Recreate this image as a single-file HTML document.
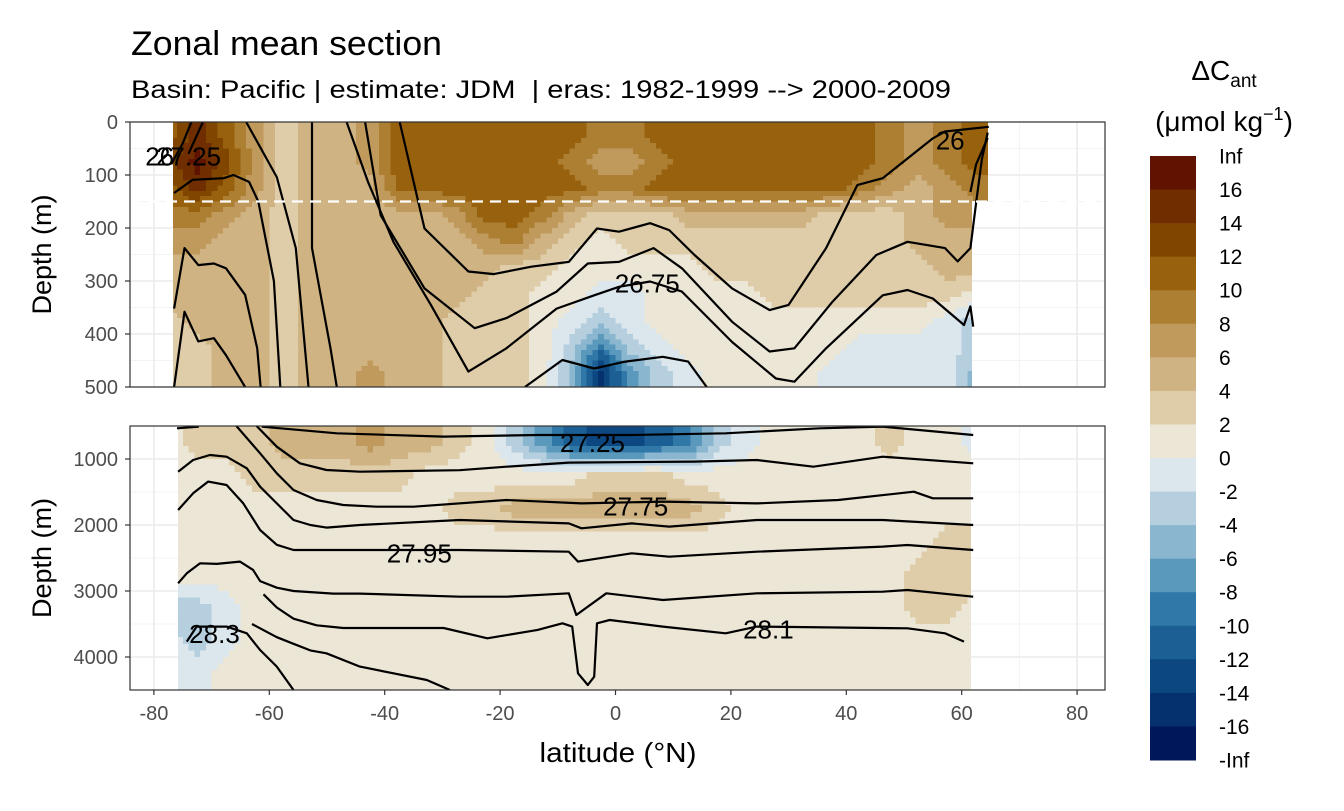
<!DOCTYPE html>
<html><head><meta charset="utf-8">
<style>
html,body{margin:0;padding:0;background:#fff;}
svg text{font-family:"Liberation Sans",sans-serif;}
</style></head>
<body>
<svg id="chart" width="1344" height="806" viewBox="0 0 1344 806" xmlns="http://www.w3.org/2000/svg">
<defs>
<clipPath id="clipTop"><path d="M173,122 L988,122 L988,201 L972,201 L972,387 L173,387 Z"/></clipPath>
<clipPath id="clipBot"><path d="M178,426 L971,426 L971,690 L178,690 Z"/></clipPath>
<clipPath id="panTop"><rect x="130" y="122" width="975" height="265"/></clipPath>
<clipPath id="panBot"><rect x="130" y="426" width="975" height="264"/></clipPath>
</defs>
<text x="131" y="55" font-size="34" textLength="311" lengthAdjust="spacingAndGlyphs" fill="#000">Zonal mean section</text>
<text x="131" y="98" font-size="25" textLength="820" lengthAdjust="spacingAndGlyphs" fill="#000">Basin: Pacific | estimate: JDM&#160; | eras: 1982-1999 --&gt; 2000-2009</text>
<g id="gTop"></g>
<g id="gBot"></g>
<g id="gAxes"></g>
<g id="gLegend"></g>
</svg>
<script>
const lats = [-77.5,-72.5,-67.5,-62.5,-57.5,-52.5,-47.5,-42.5,-37.5,-32.5,-27.5,-22.5,-17.5,-12.5,-7.5,-2.5,2.5,7.5,12.5,17.5,22.5,27.5,32.5,37.5,42.5,47.5,52.5,57.5,62.5];
const topDepths = [0,50,100,150,200,250,300,350,400,450];
const topValues = [
[11,15,11,7,3,5,5,7,11,11,11,11,11,11,11,9,9,11,11,11,11,11,11,11,11,9,7,9,11],
[13,17,13,7,3,5,5,7,11,11,11,11,11,11,9,7,7,9,11,11,11,11,11,11,11,9,7,9,11],
[11,15,11,7,3,5,5,5,11,11,11,11,11,11,11,9,9,11,11,11,11,11,11,11,9,7,5,7,9],
[9,9,7,5,3,5,5,5,5,5,7,11,11,9,5,3,3,3,5,5,5,5,5,3,3,3,5,7,7],
[7,7,5,5,3,5,5,5,5,5,5,7,9,5,3,1,3,3,3,3,3,3,3,3,3,3,5,5,5],
[5,5,5,5,3,5,5,5,5,5,5,5,3,3,1,1,1,1,1,3,3,3,3,3,3,3,3,5,5],
[5,5,5,5,3,5,5,5,5,5,5,3,3,1,1,-1,-1,1,1,1,1,3,3,3,3,3,3,3,1],
[3,5,5,5,3,5,5,5,5,5,3,3,3,1,-1,-3,-1,1,1,1,1,1,1,1,1,1,1,-1,-3],
[3,3,5,5,3,5,5,5,5,5,3,3,3,1,-3,-9,-3,-1,1,1,1,1,1,1,-1,-1,-1,-1,-3],
[3,3,5,5,3,5,5,7,5,5,3,3,3,1,-5,-15,-7,-3,-1,1,1,1,1,-1,-1,-1,-1,-1,-5]];
const botDepths = [500,1000,1500,2000,2500,3000,3500,4000];
const botValues = [
[1,3,3,3,5,5,5,7,5,5,3,1,-3,-7,-11,-13,-13,-11,-9,-3,-1,1,1,1,1,3,1,1,-1],
[1,1,1,3,3,3,3,3,3,1,1,1,1,1,1,3,3,3,1,1,1,1,1,1,1,1,1,1,1],
[1,1,1,1,1,1,1,1,1,1,3,3,5,5,5,5,5,5,5,3,1,1,1,1,1,1,1,1,1],
[1,1,1,1,1,1,1,1,1,1,1,1,1,1,1,1,1,1,1,1,1,1,1,1,1,1,1,3,3],
[1,1,1,1,1,1,1,1,1,1,1,1,1,1,1,1,1,1,1,1,1,1,1,1,1,1,3,3,3],
[-3,-3,-1,1,1,1,1,1,1,1,1,1,1,1,1,1,1,1,1,1,1,1,1,1,1,1,3,3,1],
[-1,-3,-1,1,1,1,1,1,1,1,1,1,1,1,1,1,1,1,1,1,1,1,1,1,1,1,1,1,1],
[-1,-1,1,1,1,1,1,1,1,1,1,1,1,1,1,1,1,1,1,1,1,1,1,1,1,1,1,1,1]];
const legendLabels = ["Inf","16","14","12","10","8","6","4","2","0","-2","-4","-6","-8","-10","-12","-14","-16","-Inf"];
const palette = ["#5f1300","#6f2d00","#804600","#97610e","#ad7f33","#c09a5c","#cfb383","#dfcda9","#ece6d7","#dbe6ed","#b5cfdf","#8bb6cf","#5b99bc","#2f78a7","#1b5f95","#0d4782","#05316e","#00185a"];
const xTicks = [-80,-60,-40,-20,0,20,40,60,80];
const topTicks = [0,100,200,300,400,500];
const botTicks = [1000,2000,3000,4000];
const topLines = [
[[-77,80],[-75,40],[-73.5,0]],
[[-74,60],[-71.5,0]],
[[-64,0],[-58.7,104],[-55.4,238],[-53.2,500]],
[[-76.5,134],[-73.3,109],[-67.9,106],[-66.2,100],[-63.5,113],[-61.9,150],[-59.2,300],[-58.1,500]],
[[-76.5,352],[-74.7,238],[-72.3,270],[-69.6,267],[-67.5,276],[-64.2,326],[-62.1,427],[-61.5,500]],
[[-76.5,500],[-74.7,358],[-72.3,414],[-69.6,408],[-67.5,440],[-64.2,500]],
[[-52.6,0],[-52.6,238],[-49.4,427],[-48.3,500]],
[[-46.6,0],[-42.9,113],[-38.5,226],[-32,345],[-25.5,471],[-18.9,427],[-10.2,352],[-3.7,327],[0.6,311],[6,301],[11.5,320],[20.2,415],[27.8,484],[31,490],[36.5,427],[46.3,327],[50.6,317],[55,333],[60.4,383],[61.5,348],[62,386]],
[[-43.4,0],[-40.7,176],[-33.1,314],[-24.4,389],[-18.9,370],[-10.2,320],[-4.8,267],[0.6,264],[6.6,238],[11.5,276],[20.2,377],[26.7,433],[31,427],[37.6,339],[45.2,251],[50.6,226],[57.1,238],[59.3,263],[61.5,238],[62.6,144],[63.5,70],[64.5,20]],
[[-37.4,0],[-33.1,201],[-25.5,282],[-21.1,287],[-14.6,273],[-8.1,264],[-3.2,201],[0.6,207],[6,191],[9.3,204],[13.7,251],[20.2,314],[26.7,355],[30,345],[36.5,238],[41.9,119],[46.3,106],[55,31],[57.1,18],[64.7,9]],
[[-15.7,500],[-9.2,449],[-3.7,465],[1.7,452],[8.2,443],[12.6,452],[15.8,500]],
[[61.5,132],[62.5,80],[64.5,30]]];
const botLines = [
[[-76,535],[-72.2,510]],
[[-61.3,510],[-48.3,610],[-29.8,660],[-13.5,636],[2.8,636],[19.1,610],[35.4,535],[46.3,510],[62,636]],
[[-62.2,500],[-58.7,813],[-54.7,1065],[-50.1,1166],[-44.3,1192],[-27,1170],[-18.9,1116],[-8.1,1055],[13.7,1040],[24.5,1015],[34.3,1116],[46.3,965],[62,1065]],
[[-65.7,500],[-61.6,914],[-58.7,1217],[-55.8,1470],[-51.8,1621],[-47.2,1697],[-41.4,1722],[-35,1722],[-18.9,1621],[-5.9,1672],[8.2,1646],[24.5,1672],[38.6,1621],[51.7,1495],[55,1596],[62,1596]],
[[-75.8,1192],[-73.2,1015],[-70.3,939],[-67.4,965],[-63.9,1141],[-61.6,1419],[-58.7,1672],[-55.8,1924],[-52.9,2000],[-50.1,2040],[-44.3,2000],[-27,1924],[-8.1,1975],[-5.9,2050],[2.8,1975],[9.3,2025],[24.5,1924],[46.3,1924],[62,2000]],
[[-75.8,1773],[-73.2,1520],[-70.6,1343],[-67.4,1394],[-64.5,1672],[-61.6,2075],[-58.7,2300],[-55.8,2379],[-48.9,2379],[-38.5,2379],[-27,2379],[-8.1,2404],[-6.5,2555],[2.8,2429],[9.3,2480],[24.5,2404],[46.3,2328],[50.6,2303],[62,2379]],
[[-75.8,2884],[-74.3,2732],[-72,2580],[-69.1,2590],[-65.1,2555],[-62.8,2681],[-61.6,2850],[-58.7,2950],[-55.8,3000],[-48.9,3040],[-44.3,3040],[-27,3086],[-18.9,3086],[-8.1,3035],[-6.8,3363],[-1.6,3035],[8.2,3136],[24.5,3035],[46.3,3010],[50.6,2985],[62,3086]],
[[-61,3050],[-58.7,3250],[-55.8,3420],[-51.8,3520],[-47.2,3560],[-38.5,3560],[-29.8,3560],[-22.2,3717],[-13.5,3590],[-9.2,3490],[-7.5,3540],[-6.5,4247],[-4.8,4424],[-3.7,4298],[-3.2,3490],[-1,3439],[8.2,3540],[19.1,3641],[24.5,3540],[50.6,3565],[57.1,3641],[60.4,3767]],
[[-63,3500],[-58.7,3700],[-55.8,3800],[-52.9,3900],[-50.1,3944],[-44.3,4146],[-38.5,4247],[-32.7,4348],[-28.7,4500]],
[[-74.3,3767],[-72.6,3540],[-67.4,3540],[-63.9,3641],[-61.6,3894],[-58.7,4146],[-55.8,4500]]];
const labels = [
 {t:"26",lat:-79,d:65,p:"top"},{t:"27.25",lat:-74,d:65,p:"top"},{t:"26",lat:58,d:35,p:"top"},{t:"26.75",lat:5.5,d:305,p:"top"},
 {t:"27.25",lat:-4,d:760,p:"bot"},{t:"27.75",lat:3.5,d:1720,p:"bot"},{t:"27.95",lat:-34,d:2430,p:"bot"},{t:"28.3",lat:-69.5,d:3650,p:"bot"},{t:"28.1",lat:26.5,d:3580,p:"bot"}];

const NS="http://www.w3.org/2000/svg";
const X = lat => 615.5 + lat*5.77;
const YT = d => 122 + d*0.53;
const YB = d => 426 + (d-500)*0.066;
function mk(tag, attrs, parent){const e=document.createElementNS(NS,tag);for(const k in attrs)e.setAttribute(k,attrs[k]);parent.appendChild(e);return e;}
function colorFor(v){let k=Math.floor((v+18)/2);k=Math.max(0,Math.min(17,k));return palette[17-k];}
function interp(values, depths, step, lat, d){
  const n=lats.length, m=depths.length;
  let fj=(lat-lats[0])/5; fj=Math.max(0,Math.min(n-1,fj));
  let fi=(d-(depths[0]+step/2))/step; fi=Math.max(0,Math.min(m-1,fi));
  const j0=Math.floor(fj), i0=Math.floor(fi), j1=Math.min(n-1,j0+1), i1=Math.min(m-1,i0+1);
  const tj=fj-j0, ti=fi-i0;
  const a=values[i0][j0]*(1-tj)+values[i0][j1]*tj;
  const b=values[i1][j0]*(1-tj)+values[i1][j1]*tj;
  return a*(1-ti)+b*ti;
}
const gTop=document.getElementById('gTop'), gBot=document.getElementById('gBot'), gAx=document.getElementById('gAxes'), gL=document.getElementById('gLegend');

function panel(g, y0, h, yfun, ticks, minor, clipData, clipPan, depths, step, values, lines, yname, dStart, dEnd, dStep){
  mk('rect',{x:130,y:y0,width:975,height:h,fill:'#fff'},g);
  [-70,-50,-30,-10,10,30,50,70].forEach(v=>mk('line',{x1:X(v),x2:X(v),y1:y0,y2:y0+h,stroke:'#f3f3f3','stroke-width':1},g));
  minor.forEach(v=>mk('line',{x1:130,x2:1105,y1:yfun(v),y2:yfun(v),stroke:'#f3f3f3','stroke-width':1},g));
  xTicks.forEach(v=>mk('line',{x1:X(v),x2:X(v),y1:y0,y2:y0+h,stroke:'#ebebeb','stroke-width':1.6},g));
  ticks.forEach(v=>mk('line',{x1:130,x2:1105,y1:yfun(v),y2:yfun(v),stroke:'#ebebeb','stroke-width':1.6},g));
  const hg=mk('g',{'clip-path':'url(#'+clipData+')','shape-rendering':'crispEdges'},g);
  
  
  for(let d=dStart; d<dEnd; d+=dStep){
    for(let lat=-80; lat<66; lat+=1){
      const v=interp(values,depths,step,lat+0.5,d+dStep/2);
      const x0=X(lat), ya=yfun(d);
      const r=mk('rect',{x:x0.toFixed(1),y:ya.toFixed(1),width:6.4,height:(yfun(d+dStep)-ya+0.8).toFixed(1),fill:colorFor(v)},hg);
      
      
    }
  }
  const lg=mk('g',{'clip-path':'url(#'+clipPan+')'},g);
  lines.forEach(L=>{
    const p=mk('path',{d:L.map((pt,k)=>(k?'L':'M')+X(pt[0]).toFixed(1)+','+yfun(pt[1]).toFixed(1)).join(' '),fill:'none',stroke:'#000','stroke-width':2.2,'stroke-linejoin':'round'},lg);
    
    
  });
}
panel(gTop,122,265,YT,topTicks,[50,150,250,350,450],'clipTop','panTop',topDepths,50,topValues,topLines,'top',0,500,10);
const dash=mk('line',{x1:130,x2:1105,y1:YT(150),y2:YT(150),stroke:'#fff','stroke-width':2.2,'stroke-dasharray':'11,7'},gTop);


panel(gBot,426,264,YB,botTicks,[1500,2500,3500],'clipBot','panBot',botDepths,500,botValues,botLines,'bottom',500,4500,100);
labels.forEach(l=>{
  const t=mk('text',{x:X(l.lat),y:(l.p=='top'?YT(l.d):YB(l.d))+9,'font-size':26,'text-anchor':'middle',fill:'#000'},l.p=='top'?gTop:gBot);
  t.textContent=l.t;
  
  
});
mk('rect',{x:130,y:122,width:975,height:265,fill:'none',stroke:'#333','stroke-width':1.2},gAx);
mk('rect',{x:130,y:426,width:975,height:264,fill:'none',stroke:'#333','stroke-width':1.2},gAx);
topTicks.forEach(v=>{
  mk('line',{x1:125,x2:130,y1:YT(v),y2:YT(v),stroke:'#333','stroke-width':1.2},gAx);
  const t=mk('text',{x:118,y:YT(v)+7,'font-size':20,'text-anchor':'end',fill:'#4d4d4d'},gAx);t.textContent=v;
  
  
});
botTicks.forEach(v=>{
  mk('line',{x1:125,x2:130,y1:YB(v),y2:YB(v),stroke:'#333','stroke-width':1.2},gAx);
  const t=mk('text',{x:118,y:YB(v)+7,'font-size':20,'text-anchor':'end',fill:'#4d4d4d'},gAx);t.textContent=v;
  
  
});
xTicks.forEach(v=>{
  mk('line',{x1:X(v),x2:X(v),y1:690,y2:695,stroke:'#333','stroke-width':1.2},gAx);
  const t=mk('text',{x:X(v),y:720,'font-size':20,'text-anchor':'middle',fill:'#4d4d4d'},gAx);t.textContent=v;
  
  
});
const xt=mk('text',{x:618,y:762,'font-size':28,'text-anchor':'middle',fill:'#000',textLength:157,lengthAdjust:'spacingAndGlyphs'},gAx);xt.textContent='latitude (°N)';


[254.5,558].forEach(c=>{
  const t=mk('text',{x:0,y:0,'font-size':27,'text-anchor':'middle',fill:'#000',transform:'translate(51,'+c+') rotate(-90)'},gAx);t.textContent='Depth (m)';
  
  
});
const lt=mk('text',{x:1224,y:80,'font-size':28,'text-anchor':'middle',fill:'#000'},gL);
lt.innerHTML='ΔC<tspan font-size="19" dy="7">ant</tspan>';


const lu=mk('text',{x:1224,y:131,'font-size':28,'text-anchor':'middle',fill:'#000'},gL);
lu.innerHTML='(μmol kg<tspan font-size="18" dy="-11">−1</tspan><tspan dy="11">)</tspan>';


const bh=(760-156)/palette.length;
palette.forEach((c,i)=>{
  const r=mk('rect',{x:1150,y:156+i*bh,width:46,height:bh+0.5,fill:c},gL);
  
  
});
legendLabels.forEach((s,i)=>{
  const t=mk('text',{x:1219,y:156+i*bh+7.5,'font-size':21,fill:'#000'},gL);t.textContent=s;
  
  
});
</script>
</body></html>
